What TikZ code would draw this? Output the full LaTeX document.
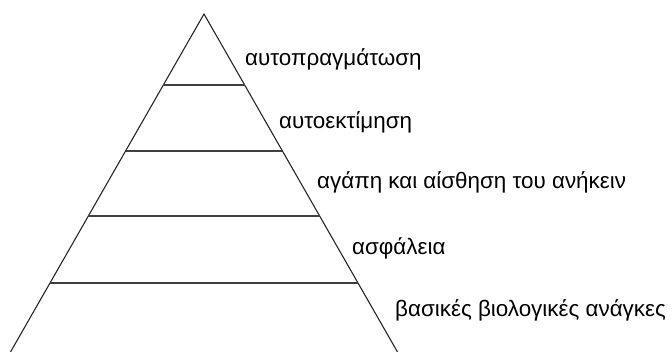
\documentclass[tikz,border=0pt]{standalone}
\usepackage{fontspec}
\setmainfont{Liberation Sans}
\begin{document}
\begin{tikzpicture}[x=1pt,y=-1pt,
  edge/.style={line width=1.1pt,draw=black!85},
  level/.style={line width=1.1pt,draw=black!75},
  lab/.style={anchor=base west,inner sep=0pt,font=\fontsize{22.4}{26}\selectfont}]
\useasboundingbox (0,0) rectangle (672,352);
\coordinate (apex) at (204,14);
\coordinate (bl) at (10.5,352);
\coordinate (br) at (397.5,352);
\draw[edge] (bl) -- (apex) -- (br);
\foreach \y/\n in {85/a,151/b,216/c,283/d}{
  \pgfmathsetmacro{\dx}{(\y-14)*0.5725}
  \coordinate (\n l) at ({204-\dx},\y);
  \coordinate (\n r) at ({204+\dx},\y);
  \draw[level] (\n l) -- (\n r);
}
\node[lab] (t1) at (245,66) {αυτοπραγμάτωση};
\node[lab] (t2) at (279,129) {αυτοεκτίμηση};
\node[lab] (t3) at (317,189) {αγάπη και αίσθηση του ανήκειν};
\node[lab] (t4) at (352,255) {ασφάλεια};
\node[lab] (t5) at (395,317) {βασικές βιολογικές ανάγκες};
\end{tikzpicture}
\end{document}
